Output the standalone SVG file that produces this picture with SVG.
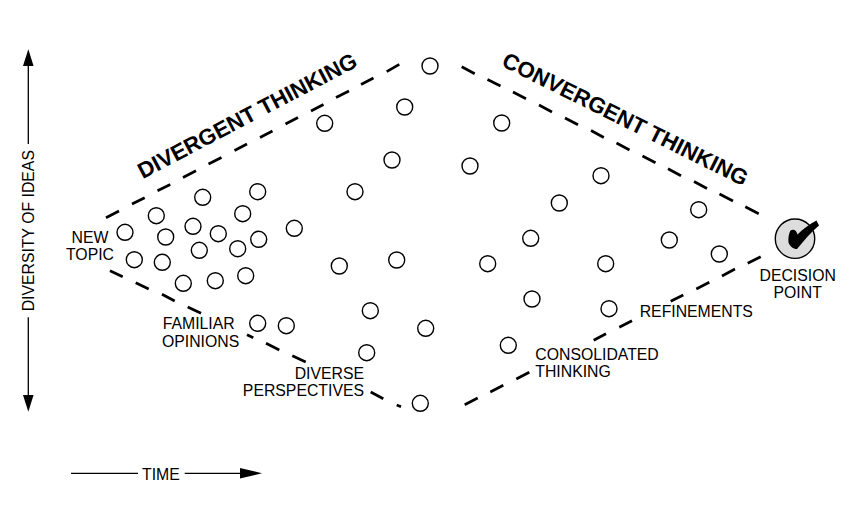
<svg xmlns="http://www.w3.org/2000/svg" width="855" height="505" viewBox="0 0 855 505">
<style>
text{font-family:"Liberation Sans",Arial,sans-serif;font-size:15.8px;fill:#000}
.t{font-weight:bold;font-size:22.3px}
.m{text-anchor:middle}
.e{text-anchor:end}
circle{fill:#fff;stroke:#000;stroke-width:1.4}
.d{fill:none;stroke:#000;stroke-width:2.7}
.a{fill:none;stroke:#000;stroke-width:1.3}
</style>
<rect width="855" height="505" fill="#fff"/>
<g id="connectors">
<path class="d" d="M106 217.7L119 211M132 204L144.700 197.700M157.500 190.800L170.300 184.500M183 177.500L196 170.800M208.500 164L221.500 157.500M234.500 150.500L247 144M260 137.500L272.500 131M285.500 124L298 117.500M311 111L323.500 104.500M336 97.500L349 91M361 84.500L373.500 78M386.700 71.700L399.300 64.300"/>
<path class="d" d="M461.700 66.700L474.700 73.700M487.500 79.500L500.500 86M513 92L526 98.800M539 105L552 112M565 118L578 124.800M591 130.500L603.800 137.500M616.500 143L629.500 150M642.500 156L655.500 162.800M668 168.800L681 175.800M694 181.500L707 188.500M719.500 194L733 201M745.300 206.700L758.700 213.700"/>
<path class="d" d="M110 270.700L122.700 276.700M135.700 282.700L148.700 289M162 294.300L174.700 301M187.700 307L201 313.300M247 334.700L253.300 337.700M266 343.300L279.300 350M292.300 355.700L305.700 362M370.700 392L383.300 398.700M396.700 405L401 406.700"/>
<path class="d" d="M464.700 404.700L477.700 398M490.300 392L503.300 385.300M516.300 379L529.300 372.300M593.700 340.300L606 333.700M619.300 327.300L632 320.700M670.700 301.300L683.300 295M696.300 289L709.300 282.300M722 276L735 269M747.700 263.300L760.700 256.700"/>
<g id="axis-vertical">
<path class="a" d="M28.300 144V64M28.300 317.300V397"/>
<path d="M28.300 49.300L33.600 66H23z"/>
<path d="M28.300 411.700L33.600 395H23z"/>
</g>
<g id="axis-time">
<path class="a" d="M71 473.300H138M184.700 473.300H242"/>
<path d="M262 473.300L240 468V478.600z"/>
</g>
</g>
<g id="n1"><circle cx="430" cy="66" r="8"/></g>
<g id="n2"><circle cx="404.700" cy="107" r="8"/></g>
<g id="n3"><circle cx="324.700" cy="123.300" r="8"/></g>
<g id="n4"><circle cx="392" cy="160" r="8"/></g>
<g id="n5"><circle cx="355" cy="191.700" r="8"/></g>
<g id="n6"><circle cx="257.700" cy="191.700" r="8"/></g>
<g id="n7"><circle cx="202.700" cy="197.300" r="8"/></g>
<g id="n8"><circle cx="242.700" cy="213.700" r="8"/></g>
<g id="n9"><circle cx="156.300" cy="215.700" r="8"/></g>
<g id="n10"><circle cx="294.300" cy="228.300" r="8"/></g>
<g id="n11"><circle cx="125" cy="232.300" r="8"/></g>
<g id="n12"><circle cx="193" cy="226.300" r="8"/></g>
<g id="n13"><circle cx="218.300" cy="233.700" r="8"/></g>
<g id="n14"><circle cx="165.700" cy="237" r="8"/></g>
<g id="n15"><circle cx="258.700" cy="239.300" r="8"/></g>
<g id="n16"><circle cx="199.300" cy="250.300" r="8"/></g>
<g id="n17"><circle cx="237.700" cy="248.700" r="8"/></g>
<g id="n18"><circle cx="134.300" cy="259.700" r="8"/></g>
<g id="n19"><circle cx="162.300" cy="262.300" r="8"/></g>
<g id="n20"><circle cx="339.300" cy="266" r="8"/></g>
<g id="n21"><circle cx="396.700" cy="260" r="8"/></g>
<g id="n22"><circle cx="183.300" cy="283.300" r="8"/></g>
<g id="n23"><circle cx="215.300" cy="280.700" r="8"/></g>
<g id="n24"><circle cx="245.700" cy="275.700" r="8"/></g>
<g id="n25"><circle cx="257.700" cy="323.300" r="8"/></g>
<g id="n26"><circle cx="286.300" cy="325.700" r="8"/></g>
<g id="n27"><circle cx="370.300" cy="310.700" r="8"/></g>
<g id="n28"><circle cx="425.700" cy="328.300" r="8"/></g>
<g id="n29"><circle cx="366.700" cy="352.700" r="8"/></g>
<g id="n30"><circle cx="420.300" cy="403.300" r="8"/></g>
<g id="n31"><circle cx="501.700" cy="123" r="8"/></g>
<g id="n32"><circle cx="470" cy="166" r="8"/></g>
<g id="n33"><circle cx="601" cy="175.700" r="8"/></g>
<g id="n34"><circle cx="559.300" cy="203" r="8"/></g>
<g id="n35"><circle cx="698.700" cy="209.700" r="8"/></g>
<g id="n36"><circle cx="530.700" cy="238.300" r="8"/></g>
<g id="n37"><circle cx="669.300" cy="240" r="8"/></g>
<g id="n38"><circle cx="719.300" cy="254" r="8"/></g>
<g id="n39"><circle cx="487.700" cy="263.700" r="8"/></g>
<g id="n40"><circle cx="605.700" cy="263.700" r="8"/></g>
<g id="n41"><circle cx="532" cy="299" r="8"/></g>
<g id="n42"><circle cx="609" cy="308.700" r="8"/></g>
<g id="n43"><circle cx="508.300" cy="345.300" r="8"/></g>
<g id="decision-point">
<circle cx="795" cy="238.700" r="19.700" style="fill:#ddd"/>
<path d="M790.500 230.500C793.500 228.500 796.500 230 797.500 234.500C803 229 809 224.500 816.500 220.500L819 225.500C811 232 804 240.500 797 249C793 249 790 246.500 788.500 242.500C788 238 788.800 233.500 790.500 230.500Z"/>
<text class="m" x="797.700" y="281.300">DECISION</text>
<text class="m" x="797.700" y="298.300">POINT</text>
</g>
<g id="labels">
<text class="t m" transform="translate(250.800 122.500) rotate(-27.700)">DIVERGENT THINKING</text>
<text class="t m" transform="translate(622 126) rotate(26.500)">CONVERGENT THINKING</text>
<text class="m" transform="translate(33.700 230.700) rotate(-90)">DIVERSITY OF IDEAS</text>
<text x="142" y="480">TIME</text>
<text class="m" x="90" y="243.300">NEW</text>
<text class="m" x="90" y="260">TOPIC</text>
<text x="162.700" y="329.300">FAMILIAR</text>
<text x="162" y="347">OPINIONS</text>
<text class="e" x="364" y="379.300">DIVERSE</text>
<text class="e" x="364" y="396">PERSPECTIVES</text>
<text x="535.300" y="360">CONSOLIDATED</text>
<text x="535.300" y="377">THINKING</text>
<text x="639.700" y="316.700">REFINEMENTS</text>
</g>
</svg>
